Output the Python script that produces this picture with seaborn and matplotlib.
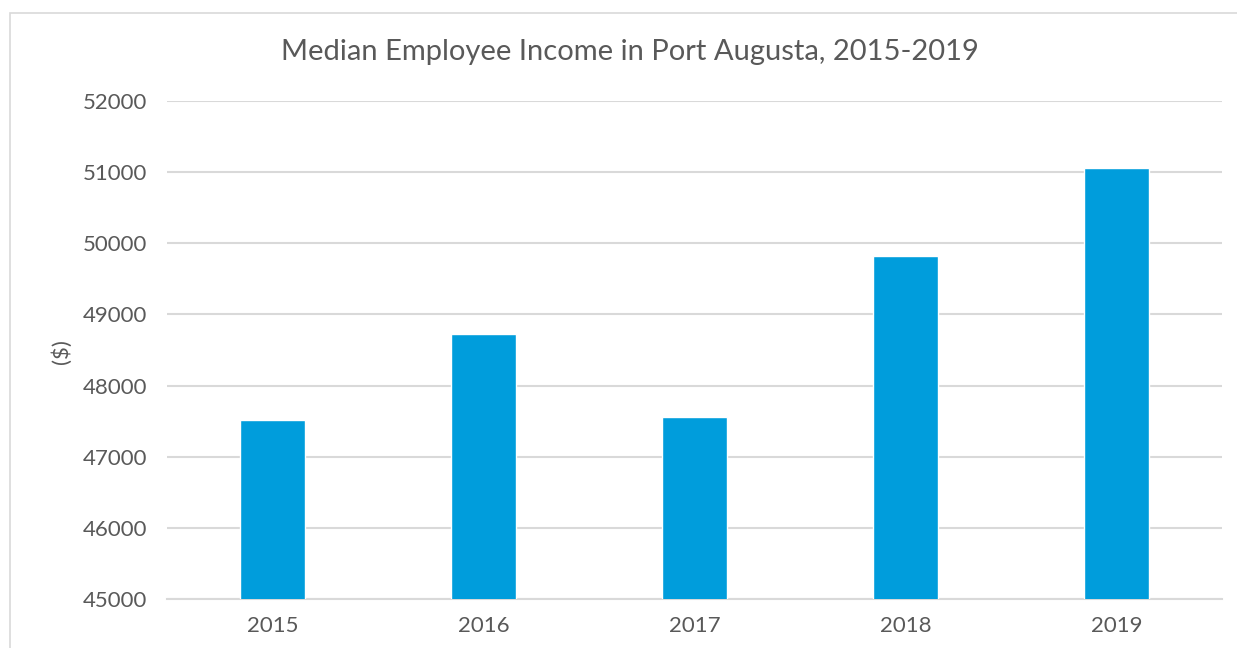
import matplotlib
matplotlib.use("Agg")
import matplotlib.pyplot as plt
from matplotlib.patches import Rectangle
import seaborn as sns
import pandas as pd

# Median employee income by year
years = ["2015", "2016", "2017", "2018", "2019"]
income = [47510, 48720, 47560, 49825, 51065]
y_ticks = [45000, 46000, 47000, 48000, 49000, 50000, 51000, 52000]

df = pd.DataFrame({"Year": years, "Income": income})

sns.set_theme(style="white")
plt.rcParams["font.family"] = ["Lato", "DejaVu Sans"]

text_color = "#595959"
grid_color = "#d9d9d9"
bar_color = "#009ddc"

fig = plt.figure(figsize=(12.37, 6.48), dpi=100)
ax = fig.add_axes([167 / 1237, 1 - 599 / 648, (1222 - 167) / 1237, (599 - 101) / 648])

sns.barplot(data=df, x="Year", y="Income", color=bar_color, width=0.31,
            saturation=1, ax=ax, zorder=3)

ax.set_ylim(45000, 52000)
ax.set_yticks(y_ticks)
ax.set_yticklabels([str(t) for t in y_ticks])
ax.yaxis.grid(True, color=grid_color, linewidth=1.5, zorder=0)
ax.set_axisbelow(True)
for side in ["top", "right", "left"]:
    ax.spines[side].set_visible(False)
ax.spines["bottom"].set_color(grid_color)
ax.spines["bottom"].set_linewidth(1.5)
ax.tick_params(axis="both", length=0, labelsize=16, colors=text_color)
ax.tick_params(axis="y", pad=14)
ax.tick_params(axis="x", pad=12)
ax.set_xlabel("")
ax.set_ylabel("")

fig.text(62 / 1237, 1 - 352 / 648, "($)", rotation=90, ha="center", va="center",
         fontsize=16, color=text_color)
fig.text(630 / 1237, 1 - 52 / 648, "Median Employee Income in Port Augusta, 2015-2019",
         ha="center", va="center", fontsize=21, color=text_color)

# Light frame around the chart area
fig.patches.append(Rectangle((10 / 1237, -0.1), 1.2, 1 - 13 / 648 + 0.1,
                             transform=fig.transFigure, fill=False,
                             edgecolor="#d9d9d9", linewidth=1.2))

fig.savefig("out.png", dpi=100)
